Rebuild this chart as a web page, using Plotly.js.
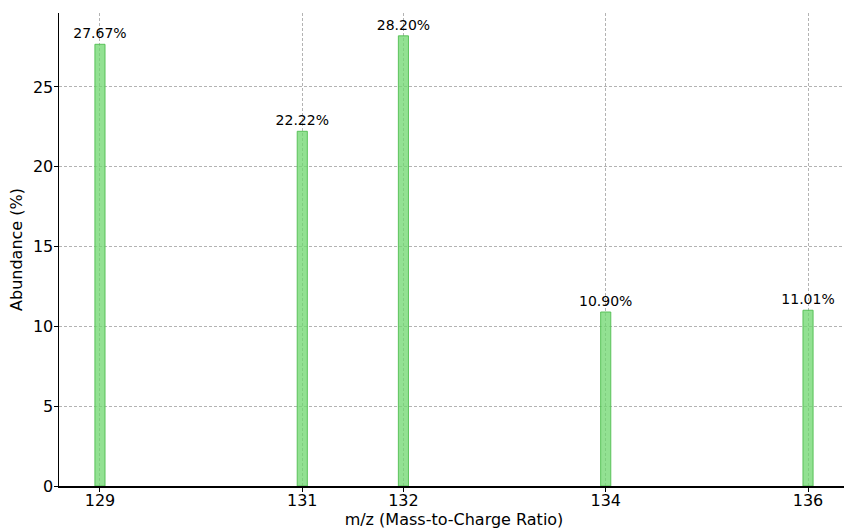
<!DOCTYPE html>
<html>
<head>
<meta charset="utf-8">
<script src="https://cdn.plot.ly/plotly-3.0.1.min.js"></script>
<style>
html, body { margin:0; padding:0; overflow:hidden; width:844px; height:529px; background:#fff; }
#chart { position:absolute; left:0; top:0; width:850px; height:529px; }
</style>
</head>
<body>
<div id="chart"></div>
<script>
const massNumbers = [129, 131, 132, 134, 136];
const abundances = [27.67, 22.22, 28.20, 10.90, 11.01];
const xTickLabels = ['129', '131', '132', '134', '136'];
const yTickValues = [0, 5, 10, 15, 20, 25];

const trace = {
  type: 'bar',
  x: massNumbers,
  y: abundances,
  width: 0.1,
  marker: { color: 'rgba(110,215,110,0.75)', line: { color: 'rgba(80,190,80,0.9)', width: 1 } },
  text: abundances.map(v => v.toFixed(2) + '%'),
  textposition: 'outside',
  constraintext: 'none',
  textfont: { family: 'DejaVu Sans', size: 14, color: '#000' },
  cliponaxis: false,
  hoverinfo: 'none'
};

const layout = {
  width: 850, height: 529,
  margin: { l: 59, r: 1, t: 13, b: 43 },
  paper_bgcolor: '#fff', plot_bgcolor: '#fff',
  showlegend: false,
  font: { family: 'DejaVu Sans', color: '#000' },
  xaxis: {
    range: [128.595, 136.405],
    tickmode: 'array', tickvals: massNumbers, ticktext: xTickLabels,
    ticks: 'outside', ticklen: 4, tickwidth: 1, tickcolor: '#000',
    ticklabelstandoff: -5,
    tickfont: { size: 16 },
    showline: true, linecolor: '#000', linewidth: 1.5,
    showgrid: true, gridcolor: '#a0a0a0', griddash: '3px,2px', gridwidth: 0.8,
    zeroline: false,
    title: { text: 'm/z (Mass-to-Charge Ratio)', font: { size: 16 }, standoff: 4 }
  },
  yaxis: {
    range: [0, 29.63],
    tickmode: 'array', tickvals: yTickValues,
    ticks: 'outside', ticklen: 4, tickwidth: 1, tickcolor: '#000',
    ticklabelstandoff: -3,
    tickfont: { size: 16 },
    showline: true, linecolor: '#000', linewidth: 1.5,
    showgrid: true, gridcolor: '#a0a0a0', griddash: '3px,2px', gridwidth: 0.8,
    zeroline: false,
    title: { text: 'Abundance (%)', font: { size: 16 }, standoff: 6 }
  },
  bargap: 0
};

Plotly.newPlot('chart', [trace], layout, { staticPlot: true, displayModeBar: false });
</script>
</body>
</html>
